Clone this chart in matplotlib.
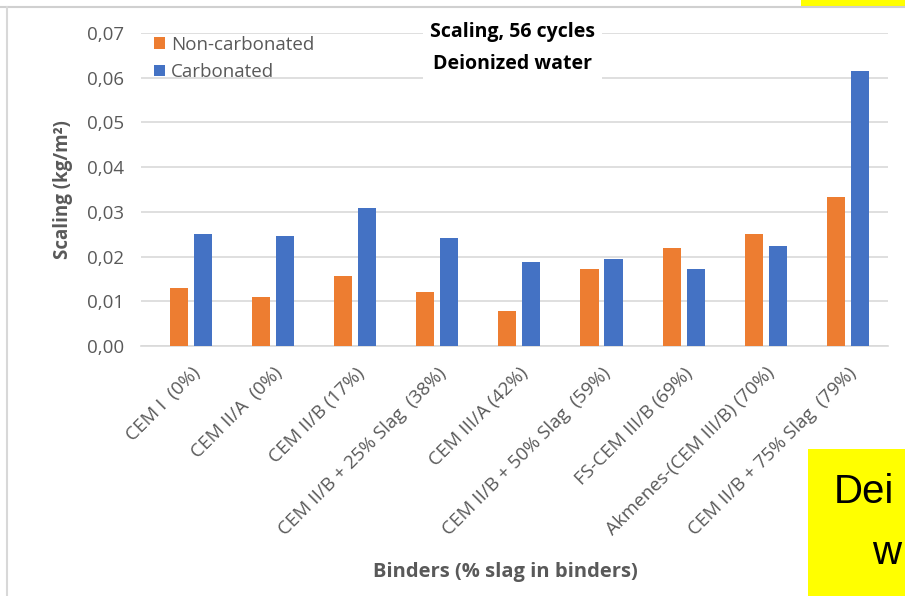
import numpy as np
import matplotlib
matplotlib.use("Agg")
from matplotlib import pyplot as plt
from matplotlib.lines import Line2D
from matplotlib.patches import Rectangle
from matplotlib.ticker import FuncFormatter, MultipleLocator

binders = ['CEM I  (0%)', 'CEM II/A  (0%)', 'CEM II/B (17%)', 'CEM II/B + 25% Slag  (38%)',
           'CEM III/A (42%)', 'CEM II/B + 50% Slag  (59%)', 'FS-CEM III/B (69%)',
           'Akmenes-(CEM III/B) (70%)', 'CEM II/B + 75% Slag  (79%)']
non_carb = [0.0130, 0.0110, 0.0157, 0.0121, 0.0078, 0.0172, 0.0219, 0.0250, 0.0333]
carb = [0.0251, 0.0245, 0.0309, 0.0242, 0.0188, 0.0195, 0.0172, 0.0224, 0.0615]

plt.rcParams['font.family'] = ['Open Sans', 'DejaVu Sans']
grey = '#595959'

fig = plt.figure(figsize=(9.05, 5.96), dpi=100)
# plot area: x 141..888 px, y 33..346 px
ax = fig.add_axes([0.1558, 0.4195, 0.8254, 0.5252])

x = np.arange(len(binders))
w = 0.22
ax.bar(x - 0.146, non_carb, w, color='#ED7D31', label='Non-carbonated', zorder=3)
ax.bar(x + 0.146, carb, w, color='#4472C4', label='Carbonated', zorder=3)

ax.set_xlim(-0.61, len(binders) - 0.51)
ax.set_ylim(0, 0.07)
ax.yaxis.set_major_locator(MultipleLocator(0.01))
ax.yaxis.set_major_formatter(FuncFormatter(lambda v, p: f'{v:.2f}'.replace('.', ',')))
ax.grid(axis='y', color='#D9D9D9', lw=1.2, zorder=0)
for s in ['top', 'right', 'left']:
    ax.spines[s].set_visible(False)
ax.spines['bottom'].set_color('#D9D9D9')
ax.spines['bottom'].set_linewidth(1.2)
ax.tick_params(axis='both', length=0, labelcolor=grey)
ax.tick_params(axis='y', labelsize=13.5, pad=12)
ax.set_xticks(x)
ax.set_xticklabels(binders, rotation=45, ha='right', rotation_mode='anchor', fontsize=13.5)
ax.tick_params(axis='x', pad=13)

ax.set_ylabel('Scaling (kg/m²)', fontsize=13.5, fontweight='bold', color=grey, labelpad=10)
fig.text(0.558, 0.04, 'Binders (% slag in binders)', ha='center', va='center',
         fontsize=14.5, fontweight='bold', color=grey)

ax.text(0.497, 0.952, 'Scaling, 56 cycles\nDeionized water', transform=ax.transAxes,
        ha='center', va='center', fontsize=14, fontweight='bold', linespacing=1.75,
        color='black', bbox=dict(facecolor='white', edgecolor='none', pad=5), zorder=5)

ax.legend(loc='upper left', bbox_to_anchor=(-0.005, 1.045), frameon=False, fontsize=13.5,
          handlelength=0.6, handleheight=0.6, handletextpad=0.3, labelspacing=0.5,
          labelcolor=grey)

# screenshot frame and yellow boxes
fig.add_artist(Line2D([0, 1], [0.988, 0.988], color='#D0D0D0', lw=1.5))
fig.add_artist(Line2D([0.008, 0.008], [0, 0.988], color='#D8D8D8', lw=1.5))
fig.add_artist(Rectangle((0.885, 0.99), 0.115, 0.01, facecolor='#FFFF00', edgecolor='none'))
fig.add_artist(Rectangle((0.893, 0), 0.107, 0.247, facecolor='#FFFF00', edgecolor='none'))
fig.text(0.921, 0.175, 'Dei', fontsize=29, family='Liberation Sans', ha='left', va='center')
fig.text(0.964, 0.072, 'w', fontsize=29, family='Liberation Sans', ha='left', va='center')

fig.savefig('out.png', dpi=100)
